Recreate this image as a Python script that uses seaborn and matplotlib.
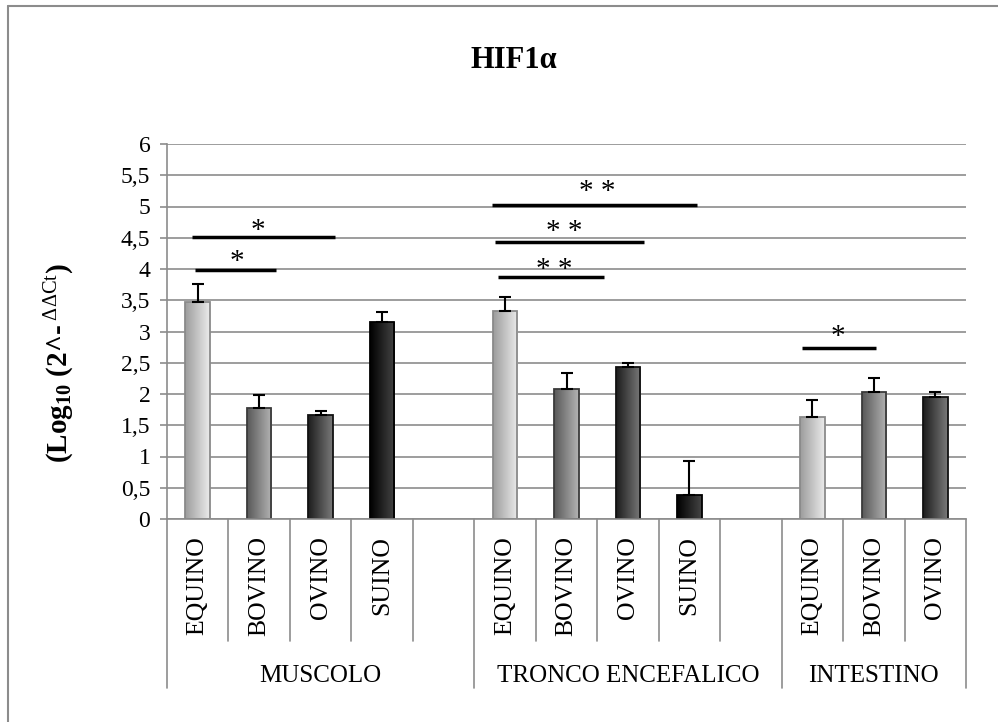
import numpy as np
import pandas as pd
import matplotlib
matplotlib.use("Agg")
import matplotlib.pyplot as plt
from matplotlib.colors import LinearSegmentedColormap
from matplotlib.patches import Rectangle
from matplotlib.lines import Line2D
import seaborn as sns

# ---------------- data ----------------
groups = ["MUSCOLO", "TRONCO ENCEFALICO", "INTESTINO"]
group_species = [
    ["EQUINO", "BOVINO", "OVINO", "SUINO"],
    ["EQUINO", "BOVINO", "OVINO", "SUINO"],
    ["EQUINO", "BOVINO", "OVINO"],
]
group_values = [
    [3.47, 1.77, 1.66, 3.16],
    [3.33, 2.08, 2.44, 0.38],
    [1.63, 2.03, 1.95],
]
group_errors = [
    [0.29, 0.22, 0.07, 0.15],
    [0.23, 0.26, 0.06, 0.55],
    [0.28, 0.22, 0.09],
]
group_blank_slot = [True, True, False]

ytick_values = [0, 0.5, 1, 1.5, 2, 2.5, 3, 3.5, 4, 4.5, 5, 5.5, 6]
ytick_labels = ["0", "0,5", "1", "1,5", "2", "2,5", "3", "3,5", "4", "4,5", "5", "5,5", "6"]

# significance brackets (x in slot units, y in data units)
sig_x0 = [-0.09, -0.04, 4.79, 4.84, 4.89, 9.83]
sig_x1 = [2.23, 1.27, 8.12, 7.26, 6.61, 11.04]
sig_y = [4.52, 3.98, 5.03, 4.44, 3.88, 2.74]
sig_text = ["*", "*", "* *", "* *", "* *", "*"]
sig_tx = [0.98, 0.64, 6.50, 5.96, 5.80, 10.42]
sig_ty = [4.60, 4.11, 5.23, 4.59, 3.98, 2.92]

species_grad = {
    "EQUINO": ("#9c9c9c", "#ebebeb"),
    "BOVINO": ("#585858", "#b4b4b4"),
    "OVINO": ("#1c1c1c", "#7a7a7a"),
    "SUINO": ("#000000", "#454545"),
}
species_edge = {"EQUINO": "#8a8a8a", "BOVINO": "#3a3a3a", "OVINO": "#111111", "SUINO": "#000000"}
species_mid = {"EQUINO": "#c2c2c2", "BOVINO": "#878787", "OVINO": "#4c4c4c", "SUINO": "#222222"}

# ---------------- table ----------------
order, slot_species, slot_group = [], [], []
rows = []
for g, sp, vals, errs, blank in zip(groups, group_species, group_values, group_errors, group_blank_slot):
    for s, v, e in zip(sp, vals, errs):
        key = f"{g}|{s}"
        order.append(key)
        slot_species.append(s)
        slot_group.append(g)
        rows.append({"slot": key, "species": s, "value": v, "err": e})
    if blank:
        order.append(f"{g}|")
        slot_species.append("")
        slot_group.append(g)
df = pd.DataFrame(rows)

# ---------------- figure ----------------
sns.set_style("white")
plt.rcParams["font.family"] = ["Liberation Serif", "DejaVu Serif"]
plt.rcParams["text.color"] = "black"
plt.rcParams["axes.labelcolor"] = "black"
plt.rcParams["xtick.labelcolor"] = "black"
plt.rcParams["ytick.labelcolor"] = "black"
plt.rcParams["mathtext.fontset"] = "custom"
plt.rcParams["mathtext.rm"] = "Liberation Serif"
plt.rcParams["mathtext.bf"] = "Liberation Serif:bold"
plt.rcParams["mathtext.it"] = "Liberation Serif:italic"

W, H = 998, 722
fig = plt.figure(figsize=(W / 100, H / 100), dpi=100)
fig.patch.set_facecolor("white")
ax = fig.add_axes([167 / W, 1 - 519 / H, (966 - 167) / W, (519 - 144) / H])

GRID = "#8c8c8c"

sns.barplot(data=df, x="slot", y="value", hue="species", order=order,
            palette=species_mid, width=0.4, legend=False, errorbar=None,
            dodge=False, saturation=1, ax=ax)

ax.set_xlim(-0.5, len(order) - 0.5)
ax.set_ylim(0, 6)

# gradient fills
for p in list(ax.patches):
    x0, y0 = p.get_x(), p.get_y()
    w, h = p.get_width(), p.get_height()
    idx = int(round(x0 + w / 2))
    sp = slot_species[idx]
    c0, c1 = species_grad[sp]
    cmap = LinearSegmentedColormap.from_list(sp, [c0, c1])
    grad = np.linspace(0, 1, 256).reshape(1, -1)
    im = ax.imshow(grad, cmap=cmap, extent=[x0, x0 + w, y0, y0 + h], aspect="auto",
                   origin="lower", zorder=p.get_zorder() + 0.1, interpolation="bilinear")
    im.set_clip_path(p)
    p.set_edgecolor("none")
    ax.add_patch(Rectangle((x0, y0), w, h, facecolor="none", edgecolor=species_edge[sp],
                           linewidth=1.3, zorder=p.get_zorder() + 0.2))

# error bars (upper only)
pos = [order.index(k) for k in df["slot"]]
ax.errorbar(pos, df["value"], yerr=[np.zeros(len(df)), df["err"]], fmt="none",
            ecolor="black", elinewidth=1.5, capsize=4.5, capthick=1.5, zorder=5)

ax.set_xlim(-0.5, len(order) - 0.5)
ax.set_ylim(0, 6)
ax.set_aspect("auto")

# axes styling
ax.set_axisbelow(True)
ax.yaxis.grid(True, color=GRID, linewidth=1.2)
ax.xaxis.grid(False)
for s in ["top", "right"]:
    ax.spines[s].set_visible(False)
for s in ["left", "bottom"]:
    ax.spines[s].set_color(GRID)
    ax.spines[s].set_linewidth(1.2)
ax.set_yticks(ytick_values)
ax.set_yticklabels(ytick_labels)
ax.tick_params(axis="y", direction="out", length=5, width=1.2, color=GRID,
               labelsize=17, pad=7, left=True, labelcolor="black")
ax.set_xticks([])
ax.set_xlabel("")
ax.set_ylabel("")

# category axis below
xt = ax.get_xaxis_transform()
inner_bottom = (519 - 641) / 375
group_bottom = (519 - 688) / 375
boundary = 0
for g, sp, blank in zip(groups, group_species, group_blank_slot):
    n = len(sp) + (1 if blank else 0)
    for k in range(1, n):
        ax.add_line(Line2D([boundary + k - 0.5] * 2, [0, inner_bottom], transform=xt,
                           color=GRID, linewidth=1.2, clip_on=False))
    ax.add_line(Line2D([boundary - 0.5] * 2, [0, group_bottom], transform=xt,
                       color=GRID, linewidth=1.2, clip_on=False))
    ax.text(boundary + (n - 1) / 2, (519 - 682) / 375, g, transform=xt, ha="center",
            va="baseline", fontsize=18, color="black")
    boundary += n
ax.add_line(Line2D([boundary - 0.5] * 2, [0, group_bottom], transform=xt,
                   color=GRID, linewidth=1.2, clip_on=False))

for i, s in enumerate(slot_species):
    if s:
        ax.text(i, (519 - 536) / 375, s, transform=xt, rotation=90, ha="center",
                va="top", fontsize=18.5, color="black")

# significance brackets
for x0, x1, y, t, tx, ty in zip(sig_x0, sig_x1, sig_y, sig_text, sig_tx, sig_ty):
    ax.add_line(Line2D([x0, x1], [y, y], color="black", linewidth=2.5,
                       solid_capstyle="butt", zorder=6))
    ax.text(tx, ty, t, ha="center", va="center", fontsize=21, zorder=6, color="black")

# y label and title
fig.text(60 / W, 1 - 363 / H,
         r"(Log$_{\mathbf{10}}$ (2^-$^{\mathrm{\ \Delta\Delta Ct}}$)",
         rotation=90, ha="center", va="center", fontsize=21, fontweight="bold",
         color="black")
fig.text(514 / W, 1 - 68 / H, "HIF1α", ha="center", va="baseline",
         fontsize=22, fontweight="bold", color="black")

# outer chart border (left and top visible)
fig.add_artist(Line2D([8 / W, 8 / W], [-0.1, 1 - 6 / H], transform=fig.transFigure,
                      color=GRID, linewidth=1.5))
fig.add_artist(Line2D([8 / W, 1.1], [1 - 6 / H, 1 - 6 / H], transform=fig.transFigure,
                      color=GRID, linewidth=1.5))

fig.savefig("out.png", dpi=100, facecolor="white")
